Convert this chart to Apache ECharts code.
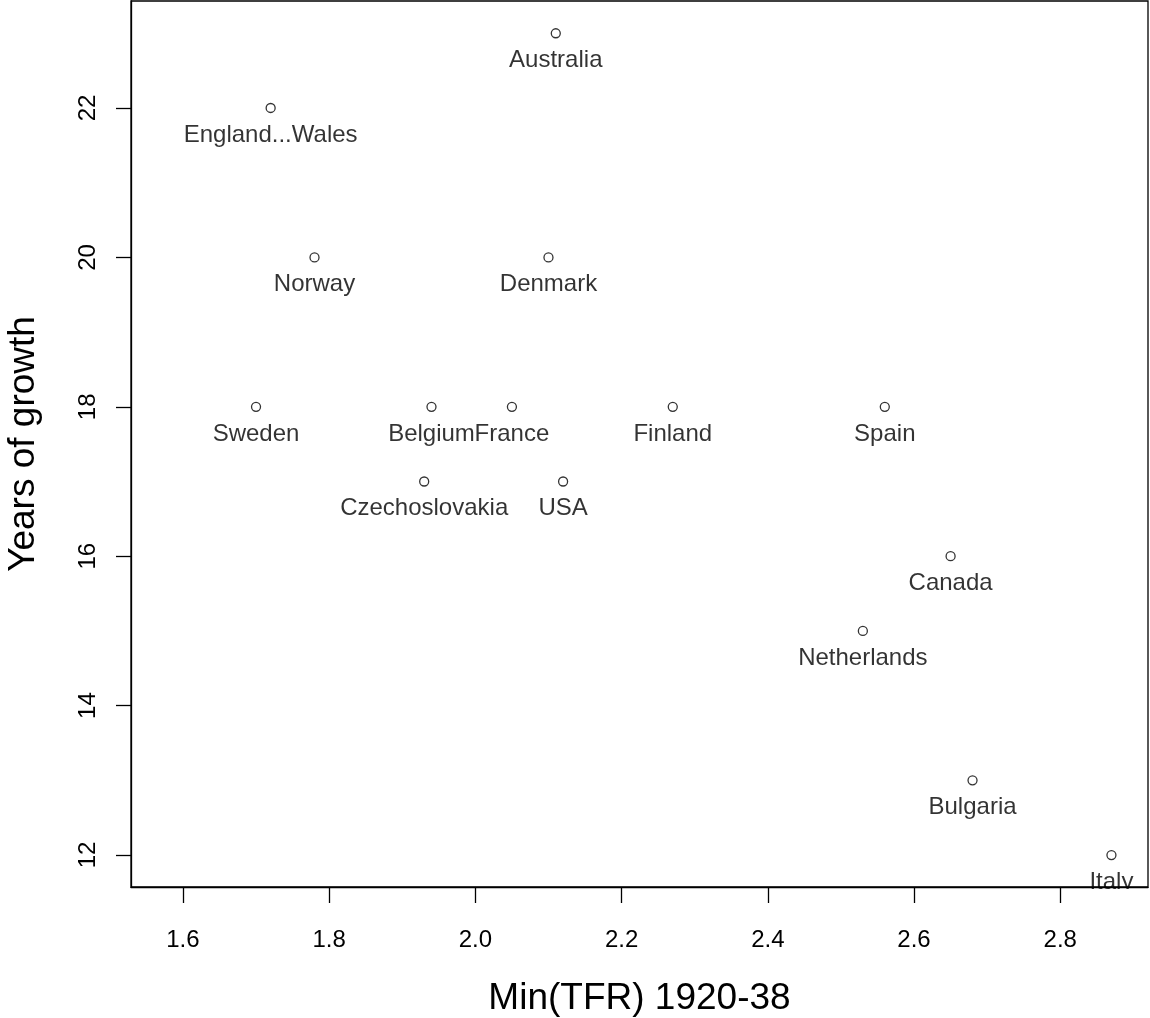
<!DOCTYPE html>
<html>
<head>
<meta charset="utf-8">
<script src="https://cdn.jsdelivr.net/npm/echarts@6/dist/echarts.min.js"></script>
<style>
html,body{margin:0;padding:0;background:#fff;}
#chart{width:1150px;height:1018px;}
</style>
</head>
<body>
<div id="chart"></div>
<script>
var countries = ["Australia","England...Wales","Norway","Denmark","Sweden","Belgium","France","Finland","Spain","Czechoslovakia","USA","Canada","Netherlands","Bulgaria","Italy"];
var minTFR = [2.11,1.72,1.78,2.10,1.70,1.94,2.05,2.27,2.56,1.93,2.12,2.65,2.53,2.68,2.87];
var yearsGrowth = [23,22,20,20,18,18,18,18,18,17,17,16,15,13,12];
var xTicks = [1.6,1.8,2.0,2.2,2.4,2.6,2.8];
var yTicks = [12,14,16,18,20,22];

var FONT = '"Liberation Sans", Arial, sans-serif';
var points = countries.map(function(c,i){ return {name:c, value:[minTFR[i], yearsGrowth[i]]}; });

var GRID = {left:131, right:2, top:1, bottom:131};
var chart = echarts.init(document.getElementById('chart'), null, {renderer:'canvas'});
chart.setOption({
  backgroundColor:'#fff',
  animation:false,
  grid:{left:GRID.left, right:GRID.right, top:GRID.top, bottom:GRID.bottom, outerBoundsMode:'none', containLabel:false,
        show:true, borderColor:'#000', borderWidth:1.3, backgroundColor:'transparent'},
  xAxis:{
    type:'value', min:1.529, max:2.920,
    name:'Min(TFR) 1920-38', nameLocation:'middle', nameGap:93,
    nameTextStyle:{fontFamily:FONT, fontSize:37, color:'#000'},
    axisLine:{show:true, lineStyle:{color:'#000', width:1.3}},
    axisTick:{show:true, length:16, inside:false, customValues:xTicks, lineStyle:{color:'#000', width:1.3}},
    axisLabel:{show:true, customValues:xTicks, margin:41, fontFamily:FONT, fontSize:24, color:'#000',
      formatter:function(v){return v.toFixed(1);}},
    splitLine:{show:false}
  },
  yAxis:{
    type:'value', min:11.572, max:23.432,
    name:'Years of growth', nameLocation:'middle', nameGap:89, nameRotate:90,
    nameTextStyle:{fontFamily:FONT, fontSize:37, color:'#000'},
    axisLine:{show:true, lineStyle:{color:'#000', width:1.3}},
    axisTick:{show:true, length:15, inside:false, customValues:yTicks, lineStyle:{color:'#000', width:1.3}},
    axisLabel:{show:true, customValues:yTicks, margin:31, rotate:90, fontFamily:FONT, fontSize:24, color:'#000'},
    splitLine:{show:false}
  },
  graphic:[{
    type:'rect', z:100, silent:true,
    shape:{x:1080, y:1018 - GRID.bottom + 2, width:66, height:24},
    style:{fill:'#fff'}
  }],
  series:[{
    type:'scatter',
    data:points,
    symbol:'circle',
    symbolSize:9,
    itemStyle:{color:'#fff', borderColor:'#000', borderWidth:1.3},
    label:{show:true, position:'bottom', distance:10, formatter:'{b}', fontFamily:FONT, fontSize:24, color:'#000'},
    emphasis:{disabled:true}
  }]
});
</script>
</body>
</html>
